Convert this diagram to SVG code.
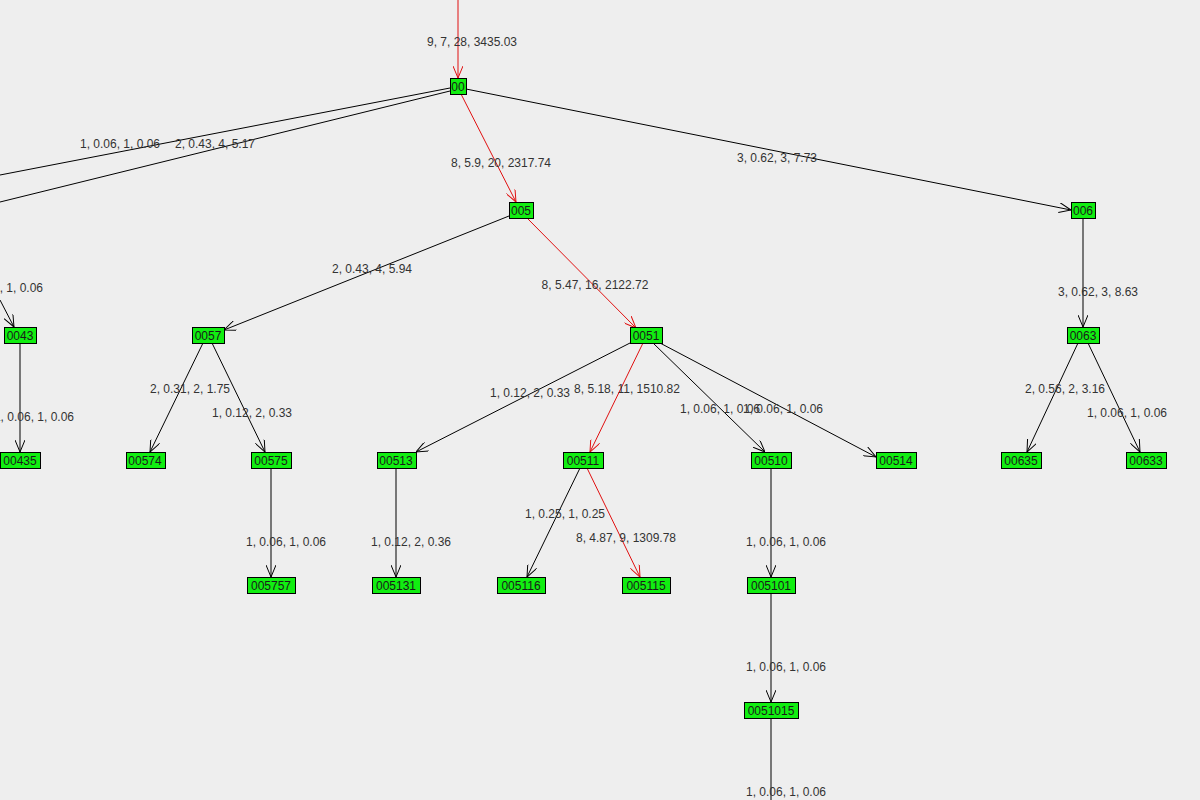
<svg xmlns="http://www.w3.org/2000/svg" width="1200" height="800" viewBox="0 0 1200 800">
<style>
.n rect{fill:#11ee11;stroke:#000;stroke-width:1}
.n text{font-family:"Liberation Sans",Arial,sans-serif;font-size:12px;fill:#1a1a1a;text-anchor:middle}
.e line{stroke:#000;stroke-width:1;marker-end:url(#ab)}
.e line.r{stroke:#e01010;marker-end:url(#ar)}
.l text{font-family:"Liberation Sans",Arial,sans-serif;font-size:12px;fill:#333;text-anchor:middle}
</style>
<defs>
<marker id="ab" viewBox="0 0 12 10" refX="12" refY="5" markerWidth="12" markerHeight="10" markerUnits="userSpaceOnUse" orient="auto"><path d="M0,0 L12,5 L0,10" fill="none" stroke="#000"/></marker>
<marker id="ar" viewBox="0 0 12 10" refX="12" refY="5" markerWidth="12" markerHeight="10" markerUnits="userSpaceOnUse" orient="auto"><path d="M0,0 L12,5 L0,10" fill="none" stroke="#e01010"/></marker>
</defs>
<rect width="1200" height="800" fill="#eeeeee"/>
<g id="connectors">
<g class="e">
<line class="r" x1="458" y1="0" x2="458" y2="78"/>
<line x1="450" y1="88" x2="0" y2="175" style="marker-end:none"/>
<line x1="450" y1="91" x2="0" y2="202" style="marker-end:none"/>
<line class="r" x1="461" y1="94" x2="516" y2="202"/>
<line x1="466" y1="89" x2="1071" y2="210"/>
<line x1="0" y1="300" x2="14" y2="327"/>
<line x1="509" y1="216" x2="224" y2="330"/>
<line class="r" x1="527.5" y1="218.5" x2="636" y2="328" stroke="#e01010" style="stroke:#e01010"/>
<line x1="1083" y1="218" x2="1083" y2="327"/>
<line x1="20" y1="343" x2="20" y2="452"/>
<line x1="203" y1="343" x2="150" y2="452"/>
<line x1="212" y1="343" x2="265" y2="452"/>
<line x1="271" y1="468" x2="271" y2="577"/>
<line x1="630" y1="343" x2="416" y2="452"/>
<line class="r" x1="643" y1="343" x2="590" y2="452"/>
<line x1="653" y1="343" x2="765" y2="452"/>
<line x1="660" y1="343" x2="876" y2="457"/>
<line x1="1078" y1="343" x2="1027" y2="452"/>
<line x1="1088" y1="343" x2="1140" y2="452"/>
<line x1="396" y1="468" x2="396" y2="577"/>
<line x1="580" y1="468" x2="527" y2="577"/>
<line class="r" x1="587" y1="468" x2="640" y2="577"/>
<line x1="771" y1="468" x2="771" y2="577"/>
<line x1="771" y1="593" x2="771" y2="702"/>
<line x1="771" y1="718" x2="771" y2="800" style="marker-end:none"/>
</g>
<g class="l">
<text x="472" y="46">9, 7, 28, 3435.03</text>
<text x="120" y="148">1, 0.06, 1, 0.06</text>
<text x="215" y="148">2, 0.43, 4, 5.17</text>
<text x="501" y="167">8, 5.9, 20, 2317.74</text>
<text x="777" y="162">3, 0.62, 3, 7.73</text>
<text x="43" y="292" style="text-anchor:end">1, 0.06, 1, 0.06</text>
<text x="372" y="273">2, 0.43, 4, 5.94</text>
<text x="595" y="289">8, 5.47, 16, 2122.72</text>
<text x="1098" y="296">3, 0.62, 3, 8.63</text>
<text x="74" y="421" style="text-anchor:end">1, 0.06, 1, 0.06</text>
<text x="190" y="393">2, 0.31, 2, 1.75</text>
<text x="252" y="417">1, 0.12, 2, 0.33</text>
<text x="530" y="397">1, 0.12, 2, 0.33</text>
<text x="627" y="393">8, 5.18, 11, 1510.82</text>
<text x="720" y="413">1, 0.06, 1, 0.06</text>
<text x="783" y="413">1, 0.06, 1, 0.06</text>
<text x="1065" y="393">2, 0.56, 2, 3.16</text>
<text x="1127" y="417">1, 0.06, 1, 0.06</text>
<text x="286" y="546">1, 0.06, 1, 0.06</text>
<text x="411" y="546">1, 0.12, 2, 0.36</text>
<text x="565" y="518">1, 0.25, 1, 0.25</text>
<text x="626" y="542">8, 4.87, 9, 1309.78</text>
<text x="786" y="546">1, 0.06, 1, 0.06</text>
<text x="786" y="671">1, 0.06, 1, 0.06</text>
<text x="786" y="796">1, 0.06, 1, 0.06</text>
</g>
</g>
<g id="n00" class="n"><rect x="450.5" y="78.5" width="16" height="16"/><text x="458" y="91">00</text></g>
<g id="n005" class="n"><rect x="509.5" y="202.5" width="24" height="16"/><text x="521" y="215">005</text></g>
<g id="n006" class="n"><rect x="1071.5" y="202.5" width="24" height="16"/><text x="1083" y="215">006</text></g>
<g id="n0043" class="n"><rect x="4.5" y="327.5" width="32" height="16"/><text x="20" y="340">0043</text></g>
<g id="n0057" class="n"><rect x="192.5" y="327.5" width="32" height="16"/><text x="208" y="340">0057</text></g>
<g id="n0051" class="n"><rect x="630.5" y="327.5" width="32" height="16"/><text x="646" y="340">0051</text></g>
<g id="n0063" class="n"><rect x="1067.5" y="327.5" width="32" height="16"/><text x="1083" y="340">0063</text></g>
<g id="n00435" class="n"><rect x="0.5" y="452.5" width="40" height="16"/><text x="20" y="465">00435</text></g>
<g id="n00574" class="n"><rect x="126.5" y="452.5" width="39" height="16"/><text x="145" y="465">00574</text></g>
<g id="n00575" class="n"><rect x="251.5" y="452.5" width="40" height="16"/><text x="271" y="465">00575</text></g>
<g id="n00513" class="n"><rect x="377.5" y="452.5" width="39" height="16"/><text x="396" y="465">00513</text></g>
<g id="n00511" class="n"><rect x="563.5" y="452.5" width="40" height="16"/><text x="583" y="465">00511</text></g>
<g id="n00510" class="n"><rect x="751.5" y="452.5" width="40" height="16"/><text x="771" y="465">00510</text></g>
<g id="n00514" class="n"><rect x="876.5" y="452.5" width="40" height="16"/><text x="896" y="465">00514</text></g>
<g id="n00635" class="n"><rect x="1001.5" y="452.5" width="40" height="16"/><text x="1021" y="465">00635</text></g>
<g id="n00633" class="n"><rect x="1126.5" y="452.5" width="40" height="16"/><text x="1146" y="465">00633</text></g>
<g id="n005757" class="n"><rect x="247.5" y="577.5" width="48" height="16"/><text x="271" y="590">005757</text></g>
<g id="n005131" class="n"><rect x="372.5" y="577.5" width="48" height="16"/><text x="396" y="590">005131</text></g>
<g id="n005116" class="n"><rect x="497.5" y="577.5" width="48" height="16"/><text x="521" y="590">005116</text></g>
<g id="n005115" class="n"><rect x="622.5" y="577.5" width="48" height="16"/><text x="646" y="590">005115</text></g>
<g id="n005101" class="n"><rect x="747.5" y="577.5" width="48" height="16"/><text x="771" y="590">005101</text></g>
<g id="n0051015" class="n"><rect x="744.5" y="702.5" width="54" height="16"/><text x="771" y="715">0051015</text></g>
</svg>
